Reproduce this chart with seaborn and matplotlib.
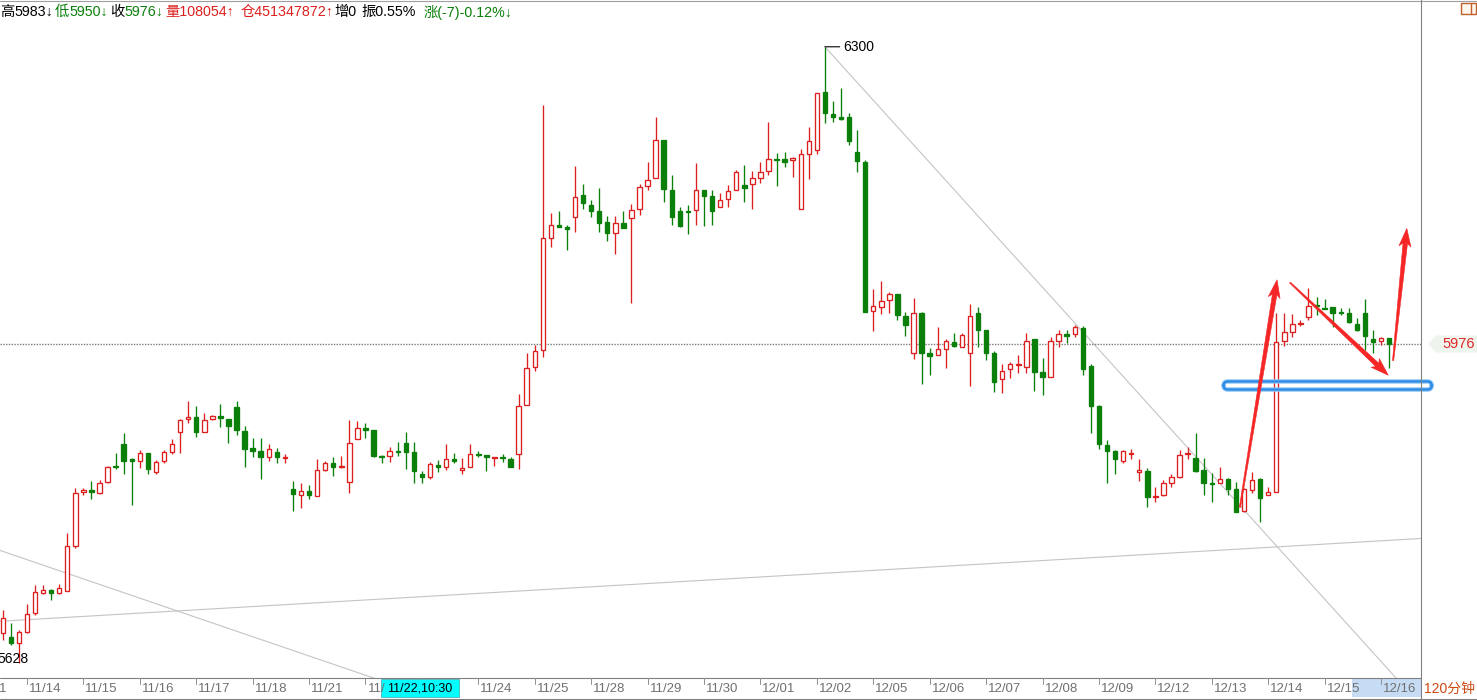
import numpy as np
import pandas as pd
import matplotlib
matplotlib.use("Agg")
import matplotlib.pyplot as plt
import seaborn as sns
from matplotlib.patches import Polygon, Rectangle, FancyBboxPatch
from matplotlib.lines import Line2D

# ---------------------------------------------------------------
# dados (120 minutos)
# ---------------------------------------------------------------
opens = [5661, 5657, 5650, 5662, 5683, 5705, 5708, 5705, 5707, 5756,
         5815, 5817, 5814, 5826, 5843, 5867, 5850, 5849, 5857, 5836,
         5849, 5858, 5880, 5894, 5896, 5880, 5894, 5898, 5894, 5907,
         5881, 5863, 5859, 5853, 5858, 5852, 5818, 5811, 5816, 5810,
         5839, 5846, 5842, 5826, 5872, 5884, 5882, 5854, 5854, 5859,
         5868, 5858, 5834, 5831, 5844, 5842, 5851, 5839, 5842, 5856,
         5855, 5852, 5853, 5851, 5856, 5910, 5951, 5970, 6092, 6106,
         6104, 6115, 6138, 6128, 6121, 6109, 6097, 6108, 6113, 6123,
         6148, 6157, 6198, 6144, 6121, 6121, 6122, 6144, 6137, 6125,
         6134, 6144, 6149, 6150, 6157, 6165, 6178, 6178, 6177, 6123,
         6183, 6188, 6251, 6227, 6223, 6223, 6185, 6174, 6012, 6016,
         6024, 6030, 6007, 5966, 6010, 5966, 5964, 5971, 5978, 5973,
         5966, 6010, 5991, 5966, 5938, 5949, 5953, 5951, 5981, 5946,
         5940, 5979, 5987, 5987, 5994, 5952, 5908, 5866, 5859, 5849,
         5856, 5836, 5838, 5809, 5811, 5825, 5831, 5856, 5852, 5839,
         5825, 5825, 5829, 5818, 5794, 5817, 5829, 5811, 5815, 5979,
         5989, 5998, 6005, 6019, 6015, 6016, 6011, 6010, 5998, 6010,
         5981, 5979, 5983]
highs = [5686, 5672, 5664, 5693, 5713, 5713, 5709, 5714, 5770, 5819,
         5819, 5827, 5828, 5843, 5857, 5879, 5852, 5861, 5857, 5850,
         5861, 5872, 5894, 5914, 5908, 5901, 5899, 5911, 5894, 5914,
         5887, 5874, 5874, 5867, 5863, 5856, 5827, 5825, 5822, 5851,
         5849, 5853, 5854, 5893, 5892, 5890, 5882, 5855, 5864, 5869,
         5880, 5869, 5838, 5847, 5850, 5867, 5857, 5852, 5867, 5859,
         5855, 5853, 5856, 5853, 5922, 5966, 5975, 6237, 6119, 6121,
         6106, 6170, 6150, 6133, 6146, 6116, 6116, 6121, 6129, 6150,
         6174, 6223, 6198, 6160, 6125, 6128, 6173, 6144, 6144, 6141,
         6149, 6166, 6171, 6165, 6174, 6218, 6184, 6185, 6180, 6189,
         6213, 6250, 6300, 6241, 6255, 6228, 6209, 6177, 6036, 6045,
         6033, 6030, 6011, 6026, 6011, 5972, 5995, 5981, 5988, 5988,
         6020, 6016, 5991, 5968, 5954, 5956, 5964, 5988, 5981, 5961,
         5984, 5991, 5991, 5997, 5996, 5954, 5910, 5871, 5861, 5861,
         5862, 5851, 5841, 5820, 5828, 5834, 5861, 5864, 5879, 5852,
         5835, 5842, 5830, 5826, 5819, 5836, 5830, 5820, 6010, 6010,
         6009, 6002, 6037, 6027, 6025, 6016, 6015, 6015, 6004, 6025,
         5991, 5984, 5983]
lows = [5653, 5648, 5628, 5661, 5681, 5704, 5697, 5704, 5707, 5754,
        5811, 5807, 5812, 5825, 5840, 5834, 5801, 5841, 5834, 5834,
        5846, 5856, 5857, 5890, 5875, 5880, 5893, 5886, 5868, 5877,
        5842, 5853, 5829, 5849, 5846, 5846, 5794, 5797, 5807, 5810,
        5838, 5832, 5841, 5814, 5872, 5874, 5853, 5846, 5847, 5854,
        5840, 5825, 5825, 5829, 5836, 5839, 5846, 5834, 5842, 5853,
        5838, 5843, 5847, 5842, 5840, 5910, 5947, 5962, 6082, 6104,
        6079, 6098, 6123, 6115, 6098, 6088, 6074, 6102, 6021, 6117,
        6144, 6157, 6131, 6106, 6104, 6096, 6106, 6105, 6106, 6125,
        6125, 6144, 6131, 6123, 6152, 6160, 6148, 6169, 6158, 6123,
        6156, 6183, 6217, 6218, 6220, 6193, 6164, 6011, 5990, 6009,
        6010, 6002, 5985, 5960, 5932, 5942, 5964, 5950, 5973, 5973,
        5930, 5973, 5959, 5924, 5923, 5939, 5944, 5944, 5925, 5920,
        5940, 5973, 5977, 5984, 5942, 5879, 5862, 5825, 5834, 5846,
        5851, 5827, 5798, 5804, 5810, 5820, 5830, 5851, 5836, 5811,
        5804, 5825, 5811, 5793, 5793, 5814, 5782, 5811, 5815, 5974,
        5984, 5996, 6002, 6008, 6014, 5995, 6008, 5999, 5990, 5970,
        5966, 5975, 5950]
closes = [5677, 5650, 5662, 5682, 5706, 5708, 5705, 5710, 5756, 5814,
          5817, 5815, 5825, 5842, 5842, 5849, 5849, 5857, 5840, 5847,
          5858, 5867, 5893, 5896, 5880, 5893, 5898, 5895, 5887, 5882,
          5862, 5859, 5853, 5862, 5853, 5853, 5812, 5816, 5811, 5839,
          5846, 5842, 5843, 5868, 5884, 5882, 5854, 5853, 5859, 5858,
          5858, 5838, 5831, 5845, 5842, 5851, 5849, 5841, 5856, 5855,
          5853, 5853, 5852, 5842, 5908, 5950, 5968, 6092, 6106, 6104,
          6101, 6136, 6130, 6121, 6108, 6097, 6108, 6102, 6122, 6147,
          6155, 6198, 6145, 6115, 6105, 6120, 6144, 6137, 6121, 6133,
          6143, 6164, 6146, 6157, 6164, 6178, 6177, 6174, 6179, 6183,
          6197, 6250, 6228, 6223, 6221, 6197, 6175, 6011, 6017, 6023,
          6030, 6008, 5997, 6010, 5966, 5963, 5971, 5979, 5974, 5986,
          6007, 5991, 5966, 5935, 5947, 5954, 5954, 5979, 5946, 5940,
          5979, 5987, 5985, 5995, 5949, 5908, 5867, 5859, 5851, 5859,
          5857, 5839, 5809, 5810, 5825, 5831, 5855, 5857, 5838, 5825,
          5823, 5829, 5818, 5793, 5818, 5828, 5808, 5815, 5978, 5989,
          5998, 5999, 6017, 6017, 6014, 6010, 6010, 6000, 5991, 5985,
          5978, 5983, 5976]

days = ["11/11", "11/14", "11/15", "11/16", "11/17", "11/18", "11/21",
        "11/22", "11/23", "11/24", "11/25", "11/28", "11/29", "11/30",
        "12/01", "12/02", "12/05", "12/06", "12/07", "12/08", "12/09",
        "12/12", "12/13", "12/14", "12/15", "12/16"]
bars_first_day = 3      # so as 3 ultimas barras de 11/11 aparecem
bars_per_day = 7

# linhas de tendencia (indice da barra, preco)
trend_a = ([0, 40], [5750, 5630])
trend_b = ([0, 170], [5674, 5761])
trend_c = ([102, 133], [6300, 5999])

# setas vermelhas e caixa azul desenhadas a mao (indice, preco)
arrows = [((153.5, 5798), (158.1, 6046)),
          ((159.7, 6043), (171.9, 5942)),
          ((172.5, 5958), (174.2, 6102))]
box_x = (151.45, 177.3)
box_y = (5926.4, 5935.2)

cursor_label = "11/22,10:30"
period_label = "120分钟"
volume_txt = "108054"
oi_txt = "451347872"

# ---------------------------------------------------------------
# estilo
# ---------------------------------------------------------------
sns.set_theme(style="white")
plt.rcParams['font.family'] = ['Liberation Sans', 'Noto Sans CJK SC', 'DejaVu Sans']

RED = '#dc1f1f'
GREEN = '#0a800a'
GRAY = '#808080'
W, H = 1477, 700

df = pd.DataFrame({"open": opens, "high": highs, "low": lows, "close": closes})
df["x"] = np.arange(len(df))
df["up"] = df["close"] >= df["open"]
df["color"] = np.where(df["up"], RED, GREEN)
df["face"] = np.where(df["up"], 'white', GREEN)

fig = plt.figure(figsize=(W / 100, H / 100), dpi=100)
fig.patch.set_facecolor('white')
ax = fig.add_axes([0, 22 / H, 1421 / W, 677 / H])
ax.set_xlim(-0.347, 175.96)
ax.set_ylim(5611.98, 6349.91)
ax.set_xticks([])
ax.set_yticks([])
sns.despine(ax=ax, left=True, bottom=True)
renderer = fig.canvas.get_renderer()


def fpx(x, y):
    # pixel da imagem -> fracao da figura
    return x / W, 1 - y / H


def fig_line(x0, y0, x1, y1, color=GRAY, lw=0.8):
    a, b = fpx(x0, y0)
    c, d = fpx(x1, y1)
    fig.add_artist(Line2D([a, c], [b, d], color=color, lw=lw))


# linhas de tendencia
for (xs, ys), extend_left in [(trend_a, True), (trend_b, True), (trend_c, False)]:
    slope = (ys[1] - ys[0]) / (xs[1] - xs[0])
    x0 = -1 if extend_left else xs[0]
    ax.plot([x0, 177], [ys[0] + slope * (x0 - xs[0]), ys[0] + slope * (177 - xs[0])],
            color='#c4c4c4', lw=0.8, zorder=1)

# linha pontilhada do ultimo preco
ax.axhline(closes[-1], color='#7a7a7a', lw=1.0, ls=(0, (1, 1)), zorder=1)

# candles
ax.vlines(df["x"], df["low"], df["high"], colors=df["color"], lw=0.95, zorder=2)
ax.bar(df["x"], np.maximum((df["close"] - df["open"]).abs(), 1.2),
       bottom=np.minimum(df["open"], df["close"]), width=0.55,
       color=df["face"], edgecolor=df["color"], linewidth=0.95, zorder=3)

# maxima e minima
i_hi = int(np.argmax(highs))
i_lo = int(np.argmin(lows))
ax.annotate(str(max(highs)), xy=(i_hi, max(highs)), xytext=(13, 0),
            textcoords='offset points', ha='left', va='center', fontsize=10, color='black',
            arrowprops=dict(arrowstyle='-', color='black', lw=0.8, shrinkA=0, shrinkB=0,
                            relpos=(0, 0.5)), zorder=5)
ax.annotate(str(min(lows)), xy=(i_lo, min(lows)), xytext=(-4.5, 3),
            textcoords='offset points', ha='center', va='center', fontsize=10,
            color='black', zorder=5)

# caixa azul
for ec, lw in [('#8cc4f4', 3.2), ('#2a8ae6', 1.6)]:
    ax.add_patch(FancyBboxPatch((box_x[0], box_y[0]), box_x[1] - box_x[0], box_y[1] - box_y[0],
                                boxstyle="round,pad=0,rounding_size=0.55", mutation_aspect=8.8,
                                fc='none', ec=ec, lw=lw, clip_on=False, zorder=6))


# setas vermelhas afinando ate a cauda
def tapered_arrow(tail, tip, w_tail=1.2, w_neck=4.5, head_w=12, head_len=15, color='#f52626'):
    t = ax.transData.transform(tail)
    h = ax.transData.transform(tip)
    d = h - t
    u = d / np.hypot(*d)
    n = np.array([-u[1], u[0]])
    neck = h - u * head_len
    back = h - u * (head_len + 3)
    pts = [t + n * w_tail / 2, neck + n * w_neck / 2, back + n * head_w / 2, h,
           back - n * head_w / 2, neck - n * w_neck / 2, t - n * w_tail / 2]
    ax.add_patch(Polygon(ax.transData.inverted().transform(pts), closed=True,
                         fc=color, ec=color, lw=0.4, clip_on=False, zorder=7))


for tail, tip in arrows:
    tapered_arrow(tail, tip)

# bordas
fig_line(0, 0.5, W, 0.5, color='#a0a0a0')
fig_line(1421, 0, 1421, 700, color=GRAY)
fig_line(0, 678, 1421, 678, color=GRAY)
fig_line(0, 699, W, 699, color=GRAY)

# faixa de datas
CUR_L, CUR_R = 381, 459
fig.add_artist(Rectangle(fpx(1352, 697), (1421 - 1352) / W, 18 / H,
                         fc='#c6dcf4', ec='none', zorder=0))


def label_width(s):
    t = fig.text(0, 0, s, fontsize=9.5)
    w = t.get_window_extent(renderer).width
    t.remove()
    return w


starts = [bars_first_day - bars_per_day + k * bars_per_day for k in range(len(days))]
for lab, s in zip(days, starts):
    xp = ax.transData.transform((s, 5700))[0]
    x0 = xp + 2
    if xp >= 0:
        fig_line(xp, 678, xp, 684, color='#909090', lw=0.7)
    # o que sai da figura ou fica sob o cursor nao aparece
    while lab and x0 < -3:
        x0 += label_width(lab[0])
        lab = lab[1:]
    while lab and x0 < CUR_R and x0 + label_width(lab) > CUR_L + 10:
        lab = lab[:-1]
    if lab:
        fig.text(*fpx(x0, 689), lab, fontsize=9.5, color='#707070', ha='left', va='center')

fig.add_artist(Rectangle(fpx(CUR_L, 697), (CUR_R - CUR_L) / W, 18 / H, fc='#00ffff',
                         ec='#50b0b0', lw=0.6, zorder=3))
fig.text(*fpx((CUR_L + CUR_R) / 2, 688.5), cursor_label, fontsize=9, color='black',
         ha='center', va='center', zorder=4)
fig.text(*fpx(1424, 689), period_label, fontsize=10, color='#cc4a10', ha='left', va='center')

# etiqueta do ultimo preco
yl = H - ax.transData.transform((0, closes[-1]))[1]
tag = [fpx(1428, yl), fpx(1436, yl - 8.5), fpx(1477, yl - 8.5), fpx(1477, yl + 8.5),
       fpx(1436, yl + 8.5)]
fig.add_artist(Polygon(tag, closed=True, fc='#edf5ec', ec='none'))
fig.text(*fpx(1475, yl), str(closes[-1]), fontsize=10.5, color='#e02828', ha='right', va='center')

# icone no canto superior direito
fig.add_artist(Rectangle(fpx(1461, 14), 15 / W, 11 / H, fc='#fff6ee', ec='#c0602a', lw=1.0))
fig_line(1471, 3.5, 1471, 13.5, color='#c0602a', lw=1.0)

# cabecalho
segs = [("高", 'black', 0), (f"{highs[-1]}↓", 'black', 2),
        ("低", GREEN, 0), (f"{lows[-1]}↓", GREEN, 2),
        ("收", 'black', 0), (f"{closes[-1]}↓", GREEN, 2),
        ("量" + volume_txt + "↑", RED, 7),
        ("仓" + oi_txt + "↑", RED, 1),
        ("增0", 'black', 5),
        ("振0.55%", 'black', 7),
        (f"涨({closes[-1] - closes[-2]})-0.12%↓", GREEN, 0)]
xpos = 0
for s, col, gap in segs:
    t = fig.text(*fpx(xpos, 12), s, fontsize=10.3, color=col, ha='left', va='center')
    xpos += t.get_window_extent(renderer).width + gap

fig.savefig("out.png", dpi=100, facecolor='white')
